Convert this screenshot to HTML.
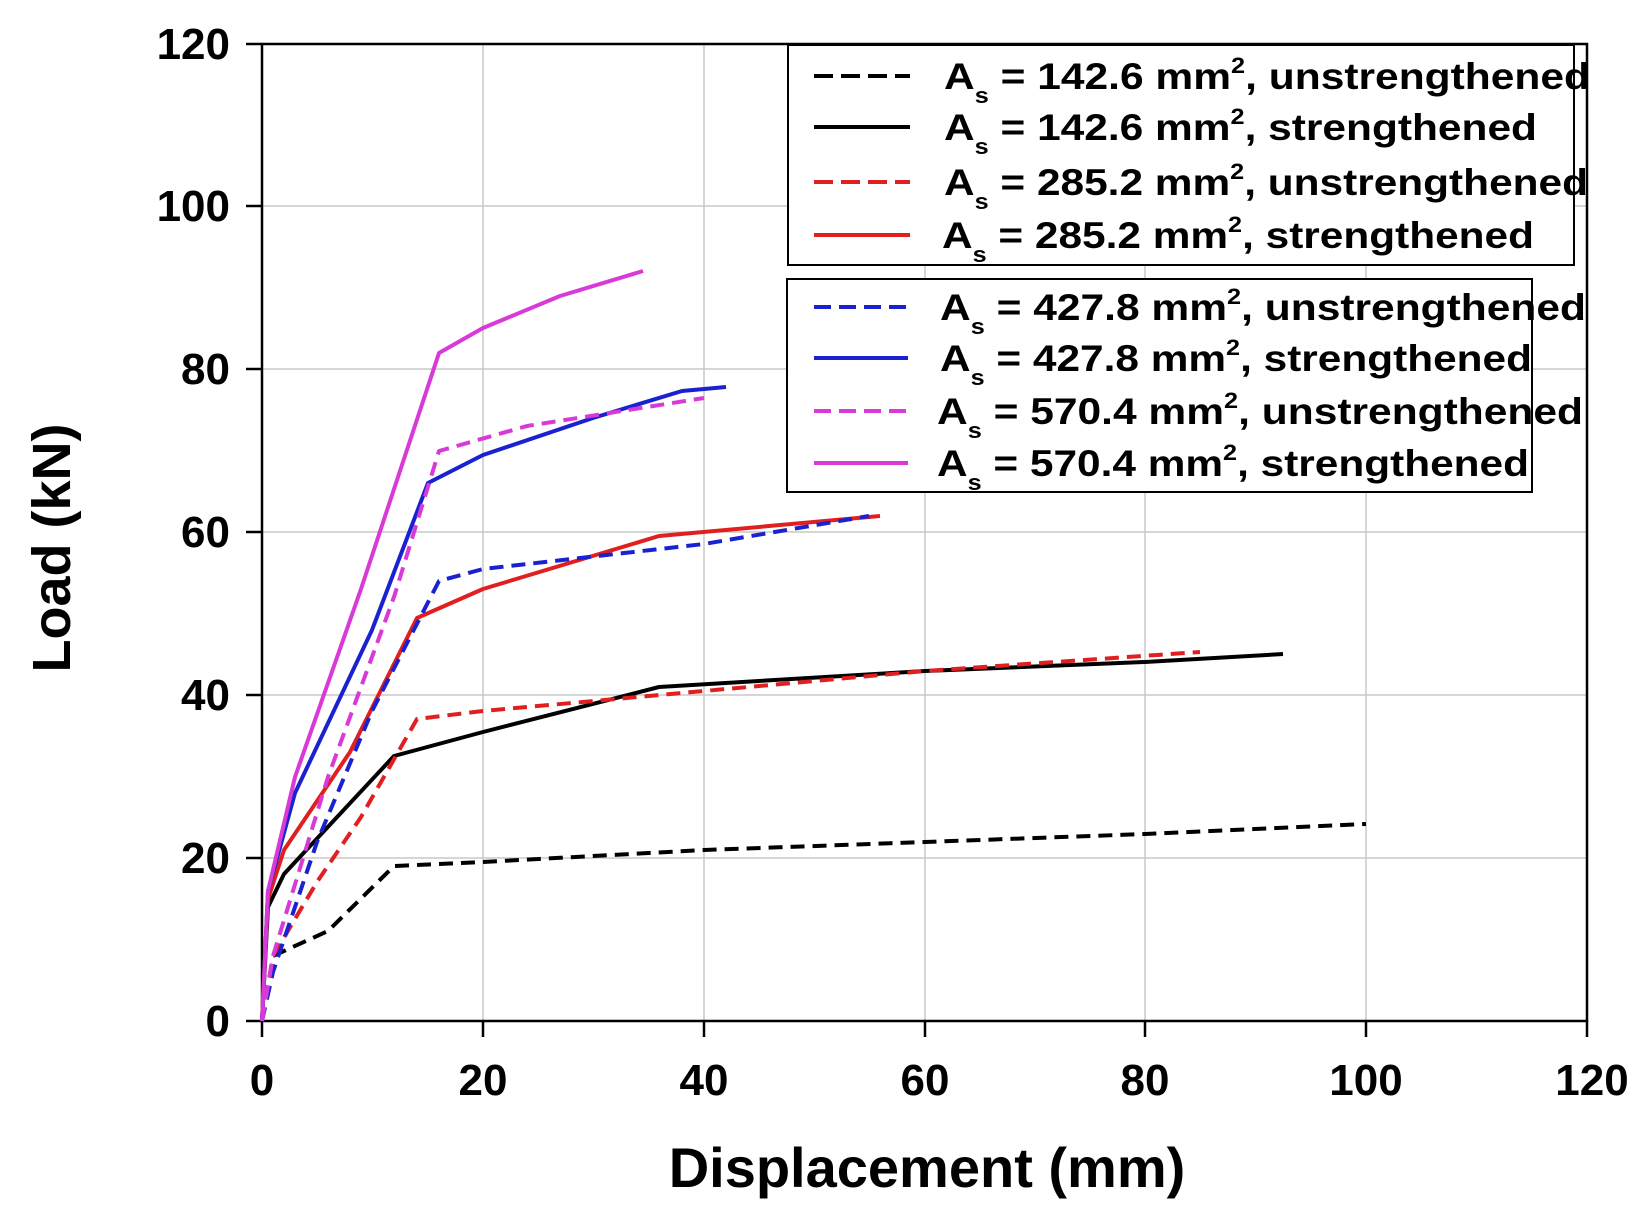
<!DOCTYPE html>
<html><head><meta charset="utf-8"><style>html,body{margin:0;padding:0;background:#fff}svg{display:block}</style></head>
<body>
<svg width="1646" height="1224" viewBox="0 0 1646 1224" xmlns="http://www.w3.org/2000/svg" font-family="Liberation Sans, Arial, sans-serif" font-weight="bold">
<g stroke="#c8c8c8" stroke-width="1.5">
<line x1="483" y1="44" x2="483" y2="1021"/><line x1="704" y1="44" x2="704" y2="1021"/><line x1="925" y1="44" x2="925" y2="1021"/><line x1="1145" y1="44" x2="1145" y2="1021"/><line x1="1366" y1="44" x2="1366" y2="1021"/>
<line x1="262" y1="858" x2="1587" y2="858"/><line x1="262" y1="695" x2="1587" y2="695"/><line x1="262" y1="532" x2="1587" y2="532"/><line x1="262" y1="369" x2="1587" y2="369"/><line x1="262" y1="206" x2="1587" y2="206"/>
</g>
<rect x="262" y="44" width="1325" height="977" fill="none" stroke="#000" stroke-width="2.5"/>
<g stroke="#000" stroke-width="2.5">
<line x1="246" y1="1021" x2="262" y2="1021"/><line x1="246" y1="858" x2="262" y2="858"/><line x1="246" y1="695" x2="262" y2="695"/><line x1="246" y1="532" x2="262" y2="532"/><line x1="246" y1="369" x2="262" y2="369"/><line x1="246" y1="206" x2="262" y2="206"/><line x1="246" y1="44" x2="262" y2="44"/>
<line x1="262" y1="1021" x2="262" y2="1037"/><line x1="483" y1="1021" x2="483" y2="1037"/><line x1="704" y1="1021" x2="704" y2="1037"/><line x1="925" y1="1021" x2="925" y2="1037"/><line x1="1145" y1="1021" x2="1145" y2="1037"/><line x1="1366" y1="1021" x2="1366" y2="1037"/><line x1="1587" y1="1021" x2="1587" y2="1037"/>
</g>
<g font-size="44" text-anchor="end">
<text x="230" y="1036">0</text><text x="230" y="873">20</text><text x="230" y="710">40</text><text x="230" y="547">60</text><text x="230" y="384">80</text><text x="230" y="221">100</text><text x="230" y="59">120</text>
</g>
<g font-size="44" text-anchor="middle">
<text x="262" y="1095">0</text><text x="483" y="1095">20</text><text x="704" y="1095">40</text><text x="925" y="1095">60</text><text x="1145" y="1095">80</text><text x="1366" y="1095">100</text><text x="1592" y="1095">120</text>
</g>
<text x="927" y="1187" font-size="56" text-anchor="middle">Displacement (mm)</text>
<text transform="translate(70,548) rotate(-90)" font-size="54" text-anchor="middle">Load (kN)</text>
<g fill="none" stroke-width="4" stroke-linejoin="round">
<polyline stroke="#000" stroke-dasharray="14,8" points="262,1021 273,956 328,931 394,866 483,862 704,850 925,842 1145,834 1366,824"/>
<polyline stroke="#000" points="262,1021 268,907 284,874 394,756 483,732 659,687 925,671 1145,662 1283,654"/>
<polyline stroke="#e02020" stroke-dasharray="14,8" points="262,1021 273,956 317,882 361,817 417,719 483,711 704,691 925,671 1200,652"/>
<polyline stroke="#e02020" points="262,1021 268,899 284,850 350,752 417,618 483,589 659,536 880,516"/>
<polyline stroke="#1a22d0" stroke-dasharray="14,8" points="262,1021 273,972 317,842 372,711 439,581 483,569 704,544 869,516"/>
<polyline stroke="#1a22d0" points="262,1021 268,891 295,793 372,630 428,483 483,455 593,418 682,391 726,387"/>
<polyline stroke="#d83ad8" stroke-dasharray="14,8" points="262,1021 273,956 328,777 394,597 439,451 527,426 704,398"/>
<polyline stroke="#d83ad8" points="262,1021 268,891 295,777 361,589 439,353 483,328 560,296 643,271"/>
</g>
<rect x="788" y="45" width="786" height="220" fill="#fff" stroke="#000" stroke-width="2"/>
<rect x="787" y="279" width="745" height="213" fill="#fff" stroke="#000" stroke-width="2"/>
<g stroke-width="4">
<line x1="814" y1="76" x2="910" y2="76" stroke="#000" stroke-dasharray="19,8"/>
<line x1="814" y1="127" x2="910" y2="127" stroke="#000"/>
<line x1="814" y1="182" x2="910" y2="182" stroke="#e02020" stroke-dasharray="19,8"/>
<line x1="814" y1="235" x2="910" y2="235" stroke="#e02020"/>
<line x1="814" y1="307" x2="908" y2="307" stroke="#1a22d0" stroke-dasharray="17,8"/>
<line x1="814" y1="358" x2="908" y2="358" stroke="#1a22d0"/>
<line x1="814" y1="411" x2="908" y2="411" stroke="#d83ad8" stroke-dasharray="17,8"/>
<line x1="814" y1="463" x2="908" y2="463" stroke="#d83ad8"/>
</g>
<g font-size="37">
<text x="944" y="89" textLength="646" lengthAdjust="spacingAndGlyphs">A<tspan font-size="22" dy="14">s</tspan><tspan dy="-14"> = 142.6 mm</tspan><tspan font-size="22" dy="-16">2</tspan><tspan dy="16">, unstrengthened</tspan></text>
<text x="944" y="140" textLength="593" lengthAdjust="spacingAndGlyphs">A<tspan font-size="22" dy="14">s</tspan><tspan dy="-14"> = 142.6 mm</tspan><tspan font-size="22" dy="-16">2</tspan><tspan dy="16">, strengthened</tspan></text>
<text x="944" y="195" textLength="644" lengthAdjust="spacingAndGlyphs">A<tspan font-size="22" dy="14">s</tspan><tspan dy="-14"> = 285.2 mm</tspan><tspan font-size="22" dy="-16">2</tspan><tspan dy="16">, unstrengthened</tspan></text>
<text x="942" y="248" textLength="592" lengthAdjust="spacingAndGlyphs">A<tspan font-size="22" dy="14">s</tspan><tspan dy="-14"> = 285.2 mm</tspan><tspan font-size="22" dy="-16">2</tspan><tspan dy="16">, strengthened</tspan></text>
<text x="940" y="320" textLength="646" lengthAdjust="spacingAndGlyphs">A<tspan font-size="22" dy="14">s</tspan><tspan dy="-14"> = 427.8 mm</tspan><tspan font-size="22" dy="-16">2</tspan><tspan dy="16">, unstrengthened</tspan></text>
<text x="940" y="371" textLength="592" lengthAdjust="spacingAndGlyphs">A<tspan font-size="22" dy="14">s</tspan><tspan dy="-14"> = 427.8 mm</tspan><tspan font-size="22" dy="-16">2</tspan><tspan dy="16">, strengthened</tspan></text>
<text x="937" y="424" textLength="646" lengthAdjust="spacingAndGlyphs">A<tspan font-size="22" dy="14">s</tspan><tspan dy="-14"> = 570.4 mm</tspan><tspan font-size="22" dy="-16">2</tspan><tspan dy="16">, unstrengthened</tspan></text>
<text x="937" y="476" textLength="592" lengthAdjust="spacingAndGlyphs">A<tspan font-size="22" dy="14">s</tspan><tspan dy="-14"> = 570.4 mm</tspan><tspan font-size="22" dy="-16">2</tspan><tspan dy="16">, strengthened</tspan></text>
</g>
</svg>
</body></html>
